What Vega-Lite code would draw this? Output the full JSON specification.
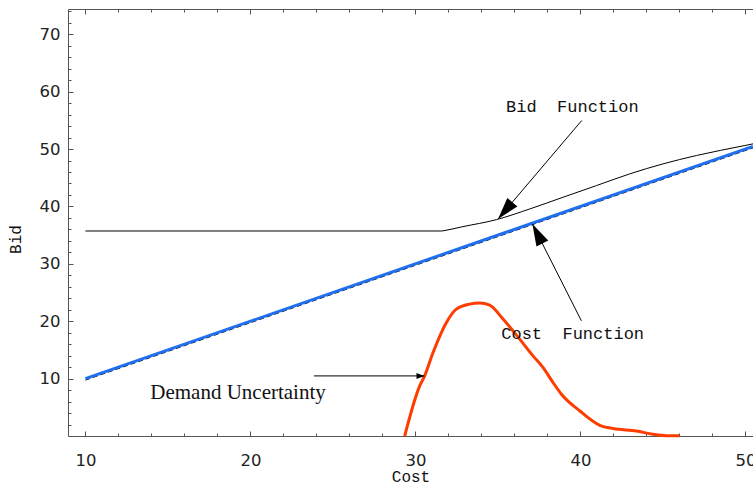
{
  "$schema": "https://vega.github.io/schema/vega-lite/v6.json",
  "width": 685,
  "height": 427,
  "autosize": {"type": "none"},
  "padding": {"left": 68, "top": 9, "right": 0, "bottom": 51},
  "background": "white",
  "config": {
    "view": {"stroke": null},
    "axis": {
      "grid": false,
      "domainColor": "#555555",
      "tickColor": "#555555",
      "labelFont": "DejaVu Sans",
      "labelFontSize": 16.5,
      "labelColor": "#222222",
      "labelFlush": false,
      "labelOverlap": false,
      "titleFont": "Liberation Mono",
      "titleFontSize": 16,
      "titleFontWeight": "normal",
      "titleColor": "#111111"
    }
  },
  "datasets": {
    "cost": [
      {"cost": 10, "bid": 10},
      {"cost": 50.46, "bid": 50.46}
    ],
    "bidfn": [
      {"cost": 10, "bid": 35.72},
      {"cost": 31.6, "bid": 35.72},
      {"cost": 31.67, "bid": 35.75},
      {"cost": 32.88, "bid": 36.48},
      {"cost": 34.91, "bid": 37.7},
      {"cost": 36.93, "bid": 39.56},
      {"cost": 38.95, "bid": 41.6},
      {"cost": 40.97, "bid": 43.63},
      {"cost": 42.99, "bid": 45.67},
      {"cost": 45.01, "bid": 47.42},
      {"cost": 47.03, "bid": 48.87},
      {"cost": 49.96, "bid": 50.61},
      {"cost": 50.46, "bid": 50.9}
    ],
    "demand": [
      {"cost": 29.35, "bid": 0},
      {"cost": 30.26, "bid": 8.73},
      {"cost": 30.56, "bid": 10.47},
      {"cost": 31.07, "bid": 14.55},
      {"cost": 31.88, "bid": 19.79},
      {"cost": 32.48, "bid": 22.11},
      {"cost": 33.29, "bid": 22.98},
      {"cost": 33.9, "bid": 23.16},
      {"cost": 34.5, "bid": 22.8},
      {"cost": 35.31, "bid": 20.37},
      {"cost": 36.32, "bid": 16.88},
      {"cost": 37.13, "bid": 13.96},
      {"cost": 37.73, "bid": 11.94},
      {"cost": 38.34, "bid": 9.32},
      {"cost": 38.85, "bid": 7.28},
      {"cost": 39.97, "bid": 4.36},
      {"cost": 41.17, "bid": 1.87},
      {"cost": 41.98, "bid": 1.29},
      {"cost": 43.39, "bid": 0.87},
      {"cost": 44.4, "bid": 0.3},
      {"cost": 45.21, "bid": 0.05},
      {"cost": 46.0, "bid": 0.05}
    ],
    "arrows": [
      {"id": "bid", "x1": 40.08, "y1": 54.97, "x2": 35.01, "y2": 37.82},
      {"id": "cost", "x1": 40.06, "y1": 20.07, "x2": 37.09, "y2": 36.95},
      {"id": "demand", "x1": 23.85, "y1": 10.47, "x2": 30.55, "y2": 10.47}
    ],
    "labels": [
      {"id": "bid", "text": "Bid \u00a0Function", "x": 39.51, "y": 57.36},
      {"id": "cost", "text": "Cost \u00a0Function", "x": 39.53, "y": 17.75},
      {"id": "demand", "text": "Demand Uncertainty", "x": 19.25, "y": 7.45}
    ]
  },
  "resolve": {"axis": {"x": "independent", "y": "independent"}},
  "layer": [
    {
      "data": {"name": "cost"},
      "mark": {"type": "line", "color": "black", "strokeWidth": 1, "strokeDash": [5, 3], "yOffset": 1.5},
      "encoding": {
        "x": {"field": "cost", "type": "quantitative", "scale": {"domain": [8.945, 50.46], "nice": false, "zero": false},
          "axis": {
            "orient": "bottom",
            "values": [10, 12, 14, 16, 18, 20, 22, 24, 26, 28, 30, 32, 34, 36, 38, 40, 42, 44, 46, 48, 50],
            "labelExpr": "datum.value % 10 === 0 ? datum.label : ''",
            "tickSize": {"condition": {"test": "datum.value % 10 === 0", "value": -5}, "value": -3},
            "labelPadding": 21,
            "title": "Cost",
            "titlePadding": -2
          }},
        "y": {"field": "bid", "type": "quantitative", "scale": {"domain": [0, 74.4], "nice": false, "zero": false},
          "axis": {
            "orient": "left",
            "values": [2, 4, 6, 8, 10, 12, 14, 16, 18, 20, 22, 24, 26, 28, 30, 32, 34, 36, 38, 40, 42, 44, 46, 48, 50, 52, 54, 56, 58, 60, 62, 64, 66, 68, 70, 72, 74],
            "labelExpr": "datum.value % 10 === 0 ? datum.label : ''",
            "tickSize": {"condition": {"test": "datum.value % 10 === 0", "value": -5}, "value": -3},
            "labelPadding": 13,
            "title": "Bid",
            "titlePadding": 16,
            "titleY": 230
          }}
      }
    },
    {
      "data": {"name": "cost"},
      "mark": {"type": "line", "color": "#1f6ff0", "strokeWidth": 3},
      "encoding": {
        "x": {"field": "cost", "type": "quantitative", "scale": {"domain": [8.945, 50.46], "nice": false, "zero": false},
          "axis": {
            "orient": "top",
            "values": [10, 12, 14, 16, 18, 20, 22, 24, 26, 28, 30, 32, 34, 36, 38, 40, 42, 44, 46, 48, 50],
            "labels": false,
            "tickSize": {"condition": {"test": "datum.value % 10 === 0", "value": -5}, "value": -3},
            "title": null
          }},
        "y": {"field": "bid", "type": "quantitative", "scale": {"domain": [0, 74.4], "nice": false, "zero": false}, "axis": null}
      }
    },
    {
      "data": {"name": "bidfn"},
      "mark": {"type": "line", "color": "black", "strokeWidth": 1, "interpolate": "monotone"},
      "encoding": {
        "x": {"field": "cost", "type": "quantitative", "scale": {"domain": [8.945, 50.46], "nice": false, "zero": false}, "axis": null},
        "y": {"field": "bid", "type": "quantitative", "scale": {"domain": [0, 74.4], "nice": false, "zero": false}, "axis": null}
      }
    },
    {
      "data": {"name": "demand"},
      "mark": {"type": "line", "color": "#ff3c00", "strokeWidth": 3, "interpolate": "monotone"},
      "encoding": {
        "x": {"field": "cost", "type": "quantitative", "scale": {"domain": [8.945, 50.46], "nice": false, "zero": false}, "axis": null},
        "y": {"field": "bid", "type": "quantitative", "scale": {"domain": [0, 74.4], "nice": false, "zero": false}, "axis": null}
      }
    },
    {
      "data": {"name": "arrows"},
      "mark": {"type": "rule", "color": "black", "strokeWidth": 1},
      "encoding": {
        "x": {"field": "x1", "type": "quantitative", "scale": {"domain": [8.945, 50.46], "nice": false, "zero": false}, "axis": null},
        "y": {"field": "y1", "type": "quantitative", "scale": {"domain": [0, 74.4], "nice": false, "zero": false}, "axis": null},
        "x2": {"field": "x2"},
        "y2": {"field": "y2"}
      }
    },
    {
      "data": {"name": "arrows"},
      "transform": [{"filter": "datum.id === 'bid'"}],
      "mark": {"type": "point", "shape": "M0,0L0.3,1L-0.3,1Z", "filled": true, "color": "black", "opacity": 1, "size": 1936, "angle": 220.4, "strokeWidth": 0},
      "encoding": {
        "x": {"field": "x2", "type": "quantitative", "scale": {"domain": [8.945, 50.46], "nice": false, "zero": false}, "axis": null},
        "y": {"field": "y2", "type": "quantitative", "scale": {"domain": [0, 74.4], "nice": false, "zero": false}, "axis": null}
      }
    },
    {
      "data": {"name": "arrows"},
      "transform": [{"filter": "datum.id === 'cost'"}],
      "mark": {"type": "point", "shape": "M0,0L0.3,1L-0.3,1Z", "filled": true, "color": "black", "opacity": 1, "size": 1936, "angle": 333.1, "strokeWidth": 0},
      "encoding": {
        "x": {"field": "x2", "type": "quantitative", "scale": {"domain": [8.945, 50.46], "nice": false, "zero": false}, "axis": null},
        "y": {"field": "y2", "type": "quantitative", "scale": {"domain": [0, 74.4], "nice": false, "zero": false}, "axis": null}
      }
    },
    {
      "data": {"name": "arrows"},
      "transform": [{"filter": "datum.id === 'demand'"}],
      "mark": {"type": "point", "shape": "M0,0L0.375,1L-0.375,1Z", "filled": true, "color": "black", "opacity": 1, "size": 256, "angle": 90, "strokeWidth": 0},
      "encoding": {
        "x": {"field": "x2", "type": "quantitative", "scale": {"domain": [8.945, 50.46], "nice": false, "zero": false}, "axis": null},
        "y": {"field": "y2", "type": "quantitative", "scale": {"domain": [0, 74.4], "nice": false, "zero": false}, "axis": null}
      }
    },
    {
      "data": {"name": "labels"},
      "transform": [{"filter": "datum.id !== 'demand'"}],
      "mark": {"type": "text", "font": "Liberation Mono", "fontSize": 17, "color": "#111111", "align": "center", "baseline": "middle"},
      "encoding": {
        "x": {"field": "x", "type": "quantitative", "scale": {"domain": [8.945, 50.46], "nice": false, "zero": false}, "axis": null},
        "y": {"field": "y", "type": "quantitative", "scale": {"domain": [0, 74.4], "nice": false, "zero": false}, "axis": null},
        "text": {"field": "text"}
      }
    },
    {
      "data": {"name": "labels"},
      "transform": [{"filter": "datum.id === 'demand'"}],
      "mark": {"type": "text", "font": "Liberation Serif", "fontSize": 21, "color": "#111111", "align": "center", "baseline": "middle"},
      "encoding": {
        "x": {"field": "x", "type": "quantitative", "scale": {"domain": [8.945, 50.46], "nice": false, "zero": false}, "axis": null},
        "y": {"field": "y", "type": "quantitative", "scale": {"domain": [0, 74.4], "nice": false, "zero": false}, "axis": null},
        "text": {"field": "text"}
      }
    }
  ]
}
